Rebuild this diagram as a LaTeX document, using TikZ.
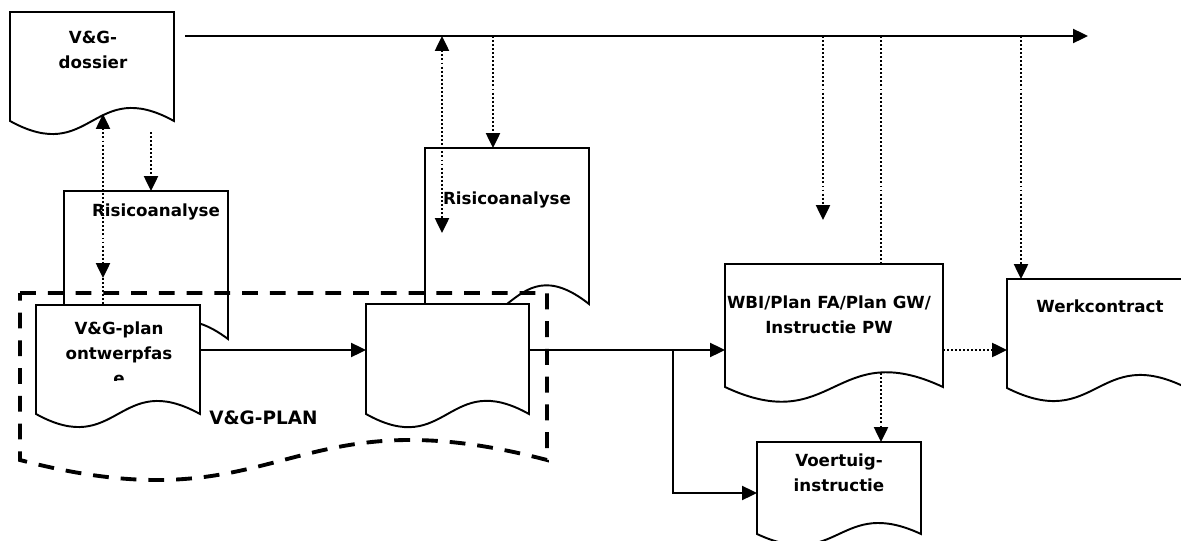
\documentclass[tikz,border=0pt]{standalone}
\usepackage{fontspec}
\setmainfont{DejaVu Sans}
\usetikzlibrary{arrows.meta,calc}

% document symbol: flat top, wavy bottom; arguments name, left, top, width, height
\newcommand\docnode[5]{%
  \pgfmathsetmacro\dkamp{0.415*#5}%
  \path[outline] (#2,#3) -- ({#2+#4},#3) -- ({#2+#4},{#3+#5})
    .. controls ({#2+0.5*#4},{#3+#5-\dkamp}) and ({#2+0.5*#4},{#3+#5+\dkamp}) .. (#2,{#3+#5}) -- cycle;
  \node[docarea, anchor=north west, minimum width={#4*0.02cm}, minimum height={#5*0.02cm}] (#1) at (#2,#3) {};
}

\begin{document}
\begin{tikzpicture}[x=0.02cm, y=-0.02cm,
  outline/.style={draw=black, line width=1.1pt, fill=white, line join=miter},
  docarea/.style={rectangle, draw=none, inner sep=0pt, outer sep=0pt},
  lbl/.style={font=\bfseries\fontsize{9.5}{14.2}\selectfont, align=center, inner sep=0pt},
  tip/.style={Triangle[length=8.5pt, width=8pt]},
  flow/.style={line width=1.1pt, -{Triangle[length=8.5pt, width=8pt]}},
  dotline/.style={line width=1.2pt, dash pattern=on 1.1pt off 1.2pt},
  dotarrow/.style={dotline, -{Triangle[length=8.5pt, width=8pt]}},
  dotboth/.style={dotline, {Triangle[length=8.5pt, width=8pt]}-{Triangle[length=8.5pt, width=8pt]}},
  boundary/.style={line width=2.2pt, dash pattern=on 9pt off 6.8pt},
]
\useasboundingbox (0,0) rectangle (1181,541);

% documents, back to front
\docnode{dossier}{10}{12}{164}{109}
\docnode{risk1}{64}{191}{164}{148}
\docnode{risk2}{425}{148}{164}{156}
\docnode{vgplan}{36}{305}{164}{109}
\docnode{mid}{366}{304}{163}{110}
\docnode{wbi}{725}{264}{218}{123}
\docnode{werk}{1007}{279}{180}{109}
\docnode{voer}{757}{442}{164}{92}

% dashed outline around the V&G-plan documents
\draw[boundary] (20,293) -- (547,293) -- (547,460)
  .. controls (283.5,390.7) and (283.5,529.3) .. (20,460) -- cycle;

% time line along the top
\coordinate (ts) at (185,36);
\coordinate (te) at (1088,36);
\draw[flow] (ts) -- (te);

% free ends and columns of the dotted connectors
\coordinate (d1) at (151,132);
\coordinate (d2t) at (103,114);
\coordinate (d2b) at (103,278);
\coordinate (d3) at (442,233);
\coordinate (d4) at (493,0);
\coordinate (d5) at (823,220);
\coordinate (d6) at (881,373);
\coordinate (d7) at (1021,0);

\draw[dotarrow] (d1) -- (d1 |- risk1.north);
\draw[dotline] (d2b) -- (d2b |- vgplan.north);
\draw[dotboth] (d2t) -- (d2b);
\draw[dotboth] (d3 |- ts) -- (d3);
\draw[dotarrow] (d4 |- ts) -- (d4 |- risk2.north);
\draw[dotarrow] (d5 |- ts) -- (d5);
\draw[dotline] (d6 |- ts) -- (d6 |- wbi.north);
\draw[dotarrow] (d6) -- (d6 |- voer.north);
\draw[dotarrow] (d7 |- ts) -- (d7 |- werk.north);

% main flow
\coordinate (row) at (0,350);
\coordinate (vrow) at (0,493);
\coordinate (br) at (673,350);
\draw[flow] (vgplan.east |- row) -- (mid.west |- row);
\draw[flow] (mid.east |- row) -- (wbi.west |- row);
\draw[flow] (br) |- (voer.west |- vrow);
\draw[dotarrow] (wbi.east |- row) -- (werk.west |- row);

% labels
\node[lbl] (tdossier) at (93,49.5) {V\&G-\\dossier};
\node[lbl] (trisk1) at (156,212) {Risicoanalyse};
\node[lbl] (trisk2) at (507,200) {Risicoanalyse};
\begin{scope}
  \clip (36,305) rectangle (200,380);
  \node[lbl] (tvgplan) at (119,353) {V\&G-plan\\ontwerpfas\\e};
\end{scope}
\node[lbl, font=\bfseries\fontsize{10.5}{13}\selectfont, anchor=west] (tplan) at (209,418) {V\&G-PLAN};
\node[lbl] (twbi) at (829,315) {WBI/Plan FA/Plan GW/\\Instructie PW};
\node[lbl] (twerk) at (1100,306) {Werkcontract};
\node[lbl] (tvoer) at (839,473) {Voertuig-\\instructie};
\end{tikzpicture}
\end{document}
